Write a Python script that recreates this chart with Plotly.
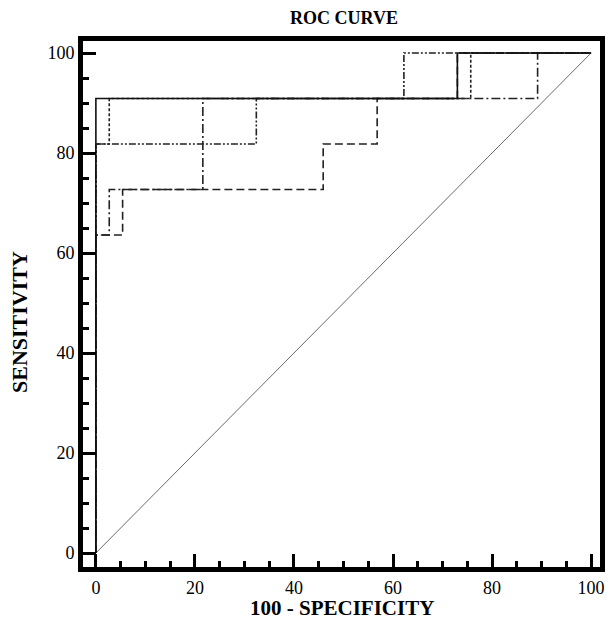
import plotly.graph_objects as go

# ROC curves (100 - specificity, sensitivity)
fpr_a = [0, 0, 73.0, 73.0, 100]
tpr_a = [0, 90.9, 90.9, 100, 100]

fpr_b = [0, 0, 2.7, 2.7, 75.7, 75.7, 100]
tpr_b = [0, 81.8, 81.8, 90.9, 90.9, 100, 100]

fpr_c = [0, 0, 32.4, 32.4, 62.2, 62.2, 100]
tpr_c = [0, 81.8, 81.8, 90.9, 90.9, 100, 100]

fpr_d = [0, 0, 2.7, 2.7, 21.6, 21.6, 89.2, 89.2, 100]
tpr_d = [0, 63.6, 63.6, 72.7, 72.7, 90.9, 90.9, 100, 100]

fpr_e = [0, 0, 5.4, 5.4, 45.9, 45.9, 56.8, 56.8, 73.0, 73.0, 100]
tpr_e = [0, 63.6, 63.6, 72.7, 72.7, 81.8, 81.8, 90.9, 90.9, 100, 100]

diag = [0, 100]

tick_vals = [0, 20, 40, 60, 80, 100]

FONT = "Liberation Serif, Times New Roman, serif"

fig = go.Figure()

fig.add_trace(go.Scatter(x=diag, y=diag, mode="lines",
                         line=dict(color="#444444", width=0.8), hoverinfo="skip"))

styles = [
    (fpr_e, tpr_e, "8px,4px"),
    (fpr_d, tpr_d, "9px,3px,2px,3px"),
    (fpr_c, tpr_c, "7px,2px,2px,2px,2px,2px"),
    (fpr_b, tpr_b, "3px,2px"),
]
for xs, ys, dash in styles:
    fig.add_trace(go.Scatter(x=xs, y=ys, mode="lines",
                             line=dict(color="#222222", width=1.6, dash=dash),
                             hoverinfo="skip"))

fig.add_trace(go.Scatter(x=fpr_a, y=tpr_a, mode="lines",
                         line=dict(color="#111111", width=1.6), hoverinfo="skip"))

axis_common = dict(
    showline=True, linecolor="black", linewidth=5, mirror=True,
    ticks="inside", ticklen=13, tickwidth=3, tickcolor="black",
    tickvals=tick_vals, showgrid=False, zeroline=False,
    tickfont=dict(family=FONT, size=18, color="black"),
    minor=dict(dtick=5, tick0=0, ticks="inside", ticklen=6, tickwidth=3,
               tickcolor="black", showgrid=False),
)

fig.update_layout(
    width=614, height=624,
    margin=dict(l=83, r=9, t=41, b=57),
    paper_bgcolor="white", plot_bgcolor="white",
    font=dict(family=FONT, color="black"),
    showlegend=False,
    title=dict(text="<b>ROC CURVE</b>", x=344 / 614, xanchor="center",
               y=1 - 18 / 624, yanchor="middle",
               font=dict(family=FONT, size=18, color="black")),
    xaxis=dict(range=[-2.6, 101.8], **axis_common),
    yaxis=dict(range=[-2.8, 102.4], **axis_common),
    annotations=[
        dict(text="<b>100 - SPECIFICITY</b>", xref="paper", yref="paper",
             x=0.5, y=0, xanchor="center", yanchor="middle", yshift=-41,
             showarrow=False, font=dict(family=FONT, size=21, color="black")),
        dict(text="<b>SENSITIVITY</b>", xref="paper", yref="paper",
             x=0, y=0.5, xanchor="center", yanchor="middle", xshift=-64,
             yshift=-18, textangle=-90, showarrow=False,
             font=dict(family=FONT, size=22, color="black")),
    ],
)

fig.write_html("out.html")
